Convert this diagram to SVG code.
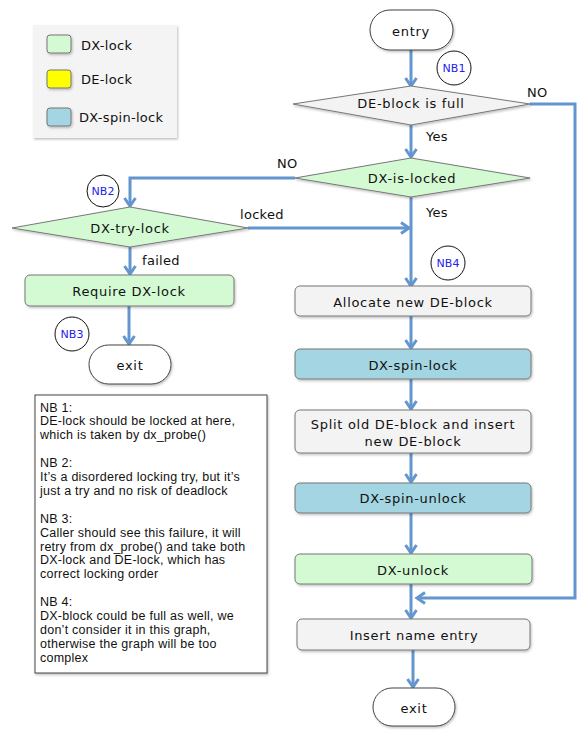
<svg xmlns="http://www.w3.org/2000/svg" width="585" height="740" viewBox="0 0 585 740">
<defs>
<marker id="arr" markerUnits="userSpaceOnUse" markerWidth="16" markerHeight="14" viewBox="-9 -7 16 14" refX="0" refY="0" orient="auto">
<path d="M-8,-5.5 L0,0 L-8,5.5" fill="none" stroke="#6396ce" stroke-width="3" stroke-linejoin="miter"/>
</marker>
<filter id="sh" x="-10%" y="-10%" width="130%" height="140%">
<feDropShadow dx="1" dy="1.5" stdDeviation="1" flood-color="#000" flood-opacity="0.25"/>
</filter>
</defs>
<style>
.shape{stroke:#777;stroke-width:1;filter:url(#sh)}
.proc{fill:#f3f3f3}
.green{fill:#d4fad4}
.blue{fill:#a3d5e3}
.term{fill:#fff;stroke:#444;stroke-width:1}
.lbl{font-family:"DejaVu Sans",Verdana,sans-serif;font-size:13px;letter-spacing:0.7px;fill:#111;text-anchor:middle}
.ylbl{font-family:"DejaVu Sans",Verdana,sans-serif;font-size:13px;letter-spacing:0.3px;fill:#111}
.nb{fill:#fff;stroke:#111;stroke-width:1}
.nbt{font-family:"DejaVu Sans",Verdana,sans-serif;font-size:11px;fill:#2222ee;text-anchor:middle}
.note{font-family:"Liberation Sans",Arial,sans-serif;font-size:12.5px;letter-spacing:0.25px;fill:#111}
.conn{fill:none;stroke:#6396ce;stroke-width:3}
</style>
<rect width="585" height="740" fill="#fff"/>

<g id="legend">
<rect x="33" y="25" width="144" height="113" fill="#f4f4f4" filter="url(#sh)"/>
<rect x="47" y="35" width="24" height="18" rx="3" class="shape green"/>
<text x="81" y="50" class="ylbl">DX-lock</text>
<rect x="47" y="70" width="24" height="18" rx="3" class="shape" fill="#ffff00"/>
<text x="81" y="84" class="ylbl">DE-lock</text>
<rect x="47" y="108" width="24" height="18" rx="3" class="shape blue"/>
<text x="79" y="122" class="ylbl">DX-spin-lock</text>
</g>

<g id="connectors">
<line x1="411" y1="50" x2="411" y2="86" class="conn" marker-end="url(#arr)"/>
<line x1="411" y1="125" x2="411" y2="157" class="conn" marker-end="url(#arr)"/>
<polyline points="530,104 575,104 575,598 417,598" class="conn" marker-end="url(#arr)"/>
<polyline points="295,178 130,178 130,206" class="conn" marker-end="url(#arr)"/>
<line x1="248" y1="228" x2="409" y2="228" class="conn" marker-end="url(#arr)"/>
<line x1="411" y1="197" x2="411" y2="286" class="conn" marker-end="url(#arr)"/>
<line x1="130" y1="247" x2="130" y2="274" class="conn" marker-end="url(#arr)"/>
<line x1="129" y1="306" x2="129" y2="344" class="conn" marker-end="url(#arr)"/>
<line x1="411" y1="316" x2="411" y2="348" class="conn" marker-end="url(#arr)"/>
<line x1="411" y1="379" x2="411" y2="409" class="conn" marker-end="url(#arr)"/>
<line x1="411" y1="453" x2="411" y2="482" class="conn" marker-end="url(#arr)"/>
<line x1="411" y1="513" x2="411" y2="553" class="conn" marker-end="url(#arr)"/>
<line x1="411" y1="584" x2="411" y2="618" class="conn" marker-end="url(#arr)"/>
<line x1="413" y1="650" x2="413" y2="687" class="conn" marker-end="url(#arr)"/>
<text x="527" y="97" class="ylbl">NO</text>
<text x="426" y="141" class="ylbl">Yes</text>
<text x="277" y="168" class="ylbl">NO</text>
<text x="426" y="217" class="ylbl">Yes</text>
<text x="240" y="219" class="ylbl">locked</text>
<text x="142" y="265" class="ylbl">failed</text>
</g>

<g id="entry">
<rect x="370" y="10" width="83" height="40" rx="20" class="term" filter="url(#sh)"/>
<text x="411" y="36" class="lbl">entry</text>
</g>

<g id="nb1">
<circle cx="454" cy="68" r="17" class="nb"/>
<text x="454" y="72" class="nbt">NB1</text>
</g>

<g id="de-block-full">
<polygon points="293,104 411,86 530,104 411,125" class="shape proc"/>
<text x="411" y="108" class="lbl">DE-block is full</text>
</g>

<g id="dx-is-locked">
<polygon points="295,178 411,158 530,178 411,197" class="shape green"/>
<text x="412" y="183" class="lbl">DX-is-locked</text>
</g>

<g id="nb2">
<circle cx="103" cy="191" r="16" class="nb"/>
<text x="103" y="195" class="nbt">NB2</text>
</g>

<g id="dx-try-lock">
<polygon points="12,228 130,207 248,228 130,247" class="shape green"/>
<text x="130" y="233" class="lbl">DX-try-lock</text>
</g>

<g id="nb4">
<circle cx="448" cy="263" r="17" class="nb"/>
<text x="448" y="267" class="nbt">NB4</text>
</g>

<g id="require-dx-lock">
<rect x="25" y="275" width="209" height="31" rx="5" class="shape green"/>
<text x="129" y="296" class="lbl">Require DX-lock</text>
</g>

<g id="nb3">
<circle cx="72" cy="334" r="17" class="nb"/>
<text x="72" y="338" class="nbt">NB3</text>
</g>

<g id="exit-left">
<rect x="89" y="345" width="82" height="39" rx="19.5" class="term" filter="url(#sh)"/>
<text x="130" y="370" class="lbl">exit</text>
</g>

<g id="notes">
<rect x="35" y="395" width="232" height="278" fill="#fff" stroke="#444" stroke-width="1" filter="url(#sh)"/>
<text class="note">
<tspan x="40" y="411.5">NB 1:</tspan>
<tspan x="40" y="425.4">DE-lock should be locked at here,</tspan>
<tspan x="40" y="439.3">which is taken by dx_probe()</tspan>
<tspan x="40" y="467.1">NB 2:</tspan>
<tspan x="40" y="481">It’s a disordered locking try, but it’s</tspan>
<tspan x="40" y="494.9">just a try and no risk of deadlock</tspan>
<tspan x="40" y="522.7">NB 3:</tspan>
<tspan x="40" y="536.6">Caller should see this failure, it will</tspan>
<tspan x="40" y="550.5">retry from dx_probe() and take both</tspan>
<tspan x="40" y="564.4">DX-lock and DE-lock, which has</tspan>
<tspan x="40" y="578.3">correct locking order</tspan>
<tspan x="40" y="606.1">NB 4:</tspan>
<tspan x="40" y="620">DX-block could be full as well, we</tspan>
<tspan x="40" y="633.9">don’t consider it in this graph,</tspan>
<tspan x="40" y="647.8">otherwise the graph will be too</tspan>
<tspan x="40" y="661.7">complex</tspan>
</text>
</g>

<g id="allocate">
<rect x="295" y="286" width="236" height="30" rx="5" class="shape proc"/>
<text x="413" y="307" class="lbl">Allocate new DE-block</text>
</g>

<g id="dx-spin-lock">
<rect x="295" y="349" width="236" height="30" rx="5" class="shape blue"/>
<text x="413" y="370" class="lbl">DX-spin-lock</text>
</g>

<g id="split">
<rect x="295" y="410" width="236" height="43" rx="5" class="shape proc"/>
<text x="413" y="429" class="lbl">Split old DE-block and insert</text>
<text x="413" y="446" class="lbl">new DE-block</text>
</g>

<g id="dx-spin-unlock">
<rect x="295" y="483" width="236" height="30" rx="5" class="shape blue"/>
<text x="413" y="503" class="lbl">DX-spin-unlock</text>
</g>

<g id="dx-unlock">
<rect x="295" y="554" width="237" height="30" rx="5" class="shape green"/>
<text x="413" y="575" class="lbl">DX-unlock</text>
</g>

<g id="insert-name">
<rect x="297" y="619" width="233" height="31" rx="5" class="shape proc"/>
<text x="414" y="640" class="lbl">Insert name entry</text>
</g>

<g id="exit-right">
<rect x="373" y="688" width="82" height="38" rx="19" class="term" filter="url(#sh)"/>
<text x="414" y="713" class="lbl">exit</text>
</g>
</svg>
